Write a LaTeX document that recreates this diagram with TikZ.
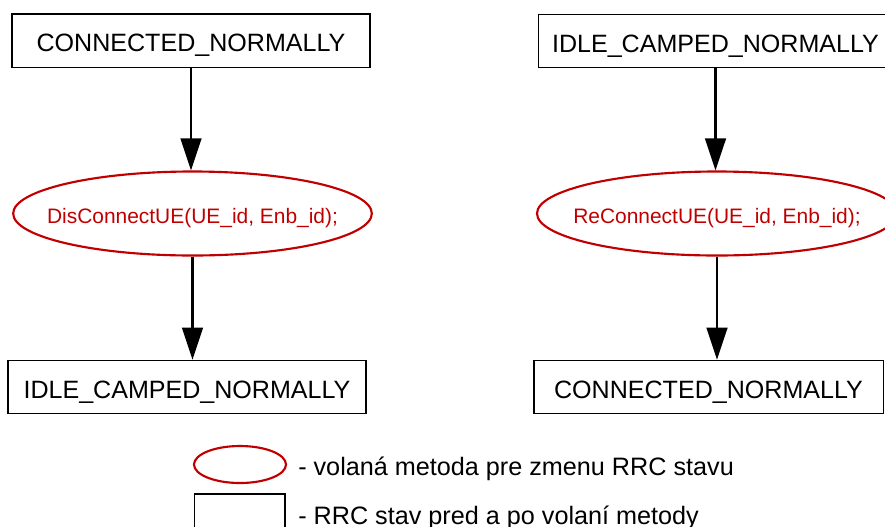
\documentclass[tikz,border=0pt]{standalone}
\usepackage{fontspec}
\setmainfont{Liberation Sans}
\usetikzlibrary{arrows.meta,positioning,calc,shapes.geometric}
\definecolor{rrcred}{HTML}{C00000}

\tikzset{
  rrcstate/.style={draw,line width=1pt,minimum width=268.5pt,minimum height=40pt,
    inner sep=0pt,text height=17pt,text depth=0pt,font=\fontsize{18.8}{20}\selectfont},
  rrcmethod/.style={ellipse,draw=rrcred,line width=1.6pt,
    minimum width=269pt,minimum height=63pt,inner sep=0pt},
  rrclabel/.style={text=rrcred,inner sep=0pt,text height=14.5pt,text depth=0pt,
    font=\fontsize{15.7}{18}\selectfont},
  trans/.style={-{Triangle[length=24pt,width=15.5pt]},line width=1.9pt},
  legtext/.style={anchor=west,inner sep=0pt,font=\fontsize{18.9}{22}\selectfont}
}

\begin{document}
\begin{tikzpicture}[x=0.75pt,y=-0.75pt]
  \useasboundingbox (0,0) rectangle (885,526);
  \clip (0,0) rectangle (885,526);
  % Left: disconnect
  \node[rrcstate] (cnA) at (191,40.5) {CONNECTED\_NORMALLY};
  \node[rrcmethod,label={[rrclabel]center:DisConnectUE(UE\_id, Enb\_id);}] (disc) at (192.5,213.5) {};
  \node[rrcstate] (idleA) at (187,387) {IDLE\_CAMPED\_NORMALLY};
  \draw[trans] (cnA.south) -- (cnA.south |- disc.north);
  \draw[trans] (disc.south) -- (disc.south |- idleA.north);
  % Right: reconnect
  \node[rrcstate,minimum width=266pt] (idleB) at (715.5,41) {IDLE\_CAMPED\_NORMALLY};
  \node[rrcmethod,minimum width=270pt,label={[rrclabel]center:ReConnectUE(UE\_id, Enb\_id);}] (reco) at (717,213.5) {};
  \node[rrcstate,minimum width=262pt] (cnB) at (708.5,387) {CONNECTED\_NORMALLY};
  \draw[trans] (idleB.south) -- (idleB.south |- reco.north);
  \draw[trans] (reco.south) -- (reco.south |- cnB.north);
  % Legend
  \node[ellipse,draw=rrcred,line width=1.6pt,minimum width=69pt,minimum height=27.75pt] (legM) at (240,464.5) {};
  \node[draw,line width=1pt,minimum width=68pt,minimum height=40pt] (legS) at (239.5,520.5) {};
  \node[legtext] (legMtxt) at (298,469) {- volaná metoda pre zmenu RRC stavu};
  \node[legtext] (legStxt) at (298,518) {- RRC stav pred a po volaní metody};
\end{tikzpicture}
\end{document}
